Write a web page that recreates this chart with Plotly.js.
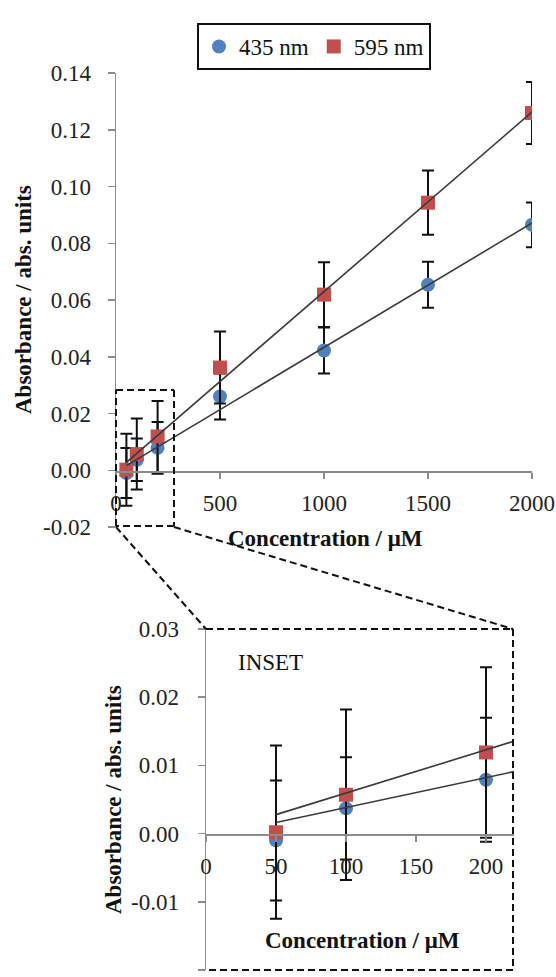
<!DOCTYPE html>
<html>
<head>
<meta charset="utf-8">
<script src="https://cdn.plot.ly/plotly-3.0.1.min.js"></script>
<style>html,body{margin:0;padding:0;background:#fff;}#chart{width:556px;height:977px;}</style>
</head>
<body>
<div id="chart"></div>
<script>
// ---- data ----
const concentration = [50, 100, 200, 500, 1000, 1500, 2000];
const abs435 = [-0.0010, 0.0037, 0.0079, 0.0260, 0.0422, 0.0654, 0.0865];
const err435 = [0.0088, 0.0075, 0.0091, 0.0081, 0.0081, 0.0081, 0.0079];
const abs595 = [0.0002, 0.0057, 0.0119, 0.0362, 0.0619, 0.0943, 0.1259];
const err595 = [0.0127, 0.0125, 0.0125, 0.0127, 0.0114, 0.0113, 0.0109];
const seriesNames = ['435 nm', '595 nm'];
const mainXTicks = [0, 500, 1000, 1500, 2000];
const mainYTicks = [-0.02, 0.00, 0.02, 0.04, 0.06, 0.08, 0.10, 0.12, 0.14];
const insetXTicks = [0, 50, 100, 150, 200];
const insetYTicks = [-0.02, -0.01, 0.00, 0.01, 0.02, 0.03];

// ---- helpers ----
const W = 556, H = 977;
const px = v => v / W;
const py = v => 1 - v / H;
const fmt = v => v.toFixed(2);
function linfit(xs, ys) {
  const n = xs.length;
  const mx = xs.reduce((a, b) => a + b, 0) / n;
  const my = ys.reduce((a, b) => a + b, 0) / n;
  let sxy = 0, sxx = 0;
  for (let i = 0; i < n; i++) { sxy += (xs[i] - mx) * (ys[i] - my); sxx += (xs[i] - mx) ** 2; }
  const m = sxy / sxx, b = my - m * mx;
  const x0 = Math.min(...xs), x1 = Math.max(...xs);
  return { x: [x0, x1], y: [m * x0 + b, m * x1 + b] };
}
const fit435 = linfit(concentration, abs435);
const fit595 = linfit(concentration, abs595);

const BLUE = '#4F81BD', RED = '#C0504D', LINE = '#3a3a3a';
const serif = 'Liberation Serif';

function markerTrace(y, err, name, color, symbol, xa, ya, showlegend) {
  return {
    x: concentration, y: y, name: name, type: 'scatter', mode: 'markers',
    xaxis: xa, yaxis: ya, showlegend: showlegend,
    marker: { color: color, symbol: symbol, size: 14, line: { width: 0 } },
    error_y: { type: 'data', array: err, visible: true, color: '#111', thickness: 2, width: 6 }
  };
}
function trendTrace(fit, xa, ya) {
  return {
    x: fit.x, y: fit.y, type: 'scatter', mode: 'lines', xaxis: xa, yaxis: ya,
    showlegend: false, hoverinfo: 'skip',
    line: { color: LINE, width: 1.6 }
  };
}

const traces = [
  markerTrace(abs435, err435, seriesNames[0], BLUE, 'circle', 'x', 'y', true),
  markerTrace(abs595, err595, seriesNames[1], RED, 'square', 'x', 'y', true),
  trendTrace(fit435, 'x', 'y'),
  trendTrace(fit595, 'x', 'y'),
  markerTrace(abs435, err435, seriesNames[0], BLUE, 'circle', 'x2', 'y2', false),
  markerTrace(abs595, err595, seriesNames[1], RED, 'square', 'x2', 'y2', false),
  trendTrace(fit435, 'x2', 'y2'),
  trendTrace(fit595, 'x2', 'y2')
];

const axisCommon = () => ({
  showgrid: false, zeroline: false, showline: true, linecolor: '#8c8c8c', linewidth: 1.5,
  ticks: 'outside', tickcolor: '#8c8c8c', tickwidth: 1.5,
  tickfont: { family: serif, size: 23, color: '#222' }
});

const titleFont = { family: serif, size: 23, color: '#111', weight: 'bold' };
const dash = { color: '#111', width: 2, dash: '7px,4px' };
function seg(x0, y0, x1, y1) {
  return { type: 'line', xref: 'paper', yref: 'paper', x0: px(x0), y0: py(y0), x1: px(x1), y1: py(y1), line: dash, layer: 'above' };
}

const layout = {
  width: W, height: H,
  font: { family: serif, size: 23, color: '#222' },
  margin: { l: 0, r: 0, t: 0, b: 0 },
  paper_bgcolor: '#fff', plot_bgcolor: 'rgba(0,0,0,0)',
  showlegend: true,
  legend: {
    orientation: 'h', x: px(314), xanchor: 'center', y: py(23), yanchor: 'top',
    bordercolor: '#111', borderwidth: 2, bgcolor: '#fff',
    font: { family: serif, size: 23, color: '#111' }, itemwidth: 30,
    tracegroupgap: 0
  },
  xaxis: Object.assign(axisCommon(), {
    domain: [px(116), px(532)], range: [0, 2000], anchor: 'free', position: py(471),
    tickvals: mainXTicks, ticktext: mainXTicks.map(String), ticklen: 6, ticklabelstandoff: 5
  }),
  yaxis: Object.assign(axisCommon(), {
    domain: [py(527), py(73)], range: [-0.02, 0.14], anchor: 'x',
    tickvals: mainYTicks, ticktext: mainYTicks.map(fmt), ticklen: 7, ticklabelstandoff: 12
  }),
  xaxis2: Object.assign(axisCommon(), {
    domain: [px(206), px(514)], range: [0, 220], anchor: 'free', position: py(834),
    tickvals: insetXTicks, ticktext: insetXTicks.map(String), ticklen: 6, ticklabelstandoff: 5
  }),
  yaxis2: Object.assign(axisCommon(), {
    domain: [py(970), py(629)], range: [-0.02, 0.03], anchor: 'x2',
    tickvals: insetYTicks, ticktext: insetYTicks.map(fmt), ticklen: 7, ticklabelstandoff: 14
  }),
  annotations: [
    { text: 'Concentration / μM', xref: 'paper', yref: 'paper', x: px(325), y: py(538), showarrow: false, font: titleFont, xanchor: 'center', yanchor: 'middle' },
    { text: 'Absorbance / abs. units', xref: 'paper', yref: 'paper', x: px(24), y: py(300), textangle: -90, showarrow: false, font: titleFont, xanchor: 'center', yanchor: 'middle' },
    { text: 'Concentration / μM', xref: 'paper', yref: 'paper', x: px(362), y: py(940), showarrow: false, font: titleFont, xanchor: 'center', yanchor: 'middle' },
    { text: 'Absorbance / abs. units', xref: 'paper', yref: 'paper', x: px(113), y: py(800), textangle: -90, showarrow: false, font: titleFont, xanchor: 'center', yanchor: 'middle' },
    { text: 'INSET', xref: 'paper', yref: 'paper', x: px(270), y: py(662), showarrow: false, font: { family: serif, size: 23, color: '#111' }, xanchor: 'center', yanchor: 'middle' }
  ],
  shapes: [
    // zoom box on main chart
    seg(116, 390, 174, 390), seg(174, 390, 174, 526), seg(174, 526, 116, 526), seg(116, 526, 116, 390),
    // connectors
    seg(116, 527, 206, 629), seg(174, 527, 513, 629),
    // inset frame
    seg(206, 629, 513, 629), seg(513, 629, 513, 970), seg(513, 970, 206, 970)
  ]
};

Plotly.newPlot('chart', traces, layout, { staticPlot: true, displayModeBar: false });
</script>
</body>
</html>
